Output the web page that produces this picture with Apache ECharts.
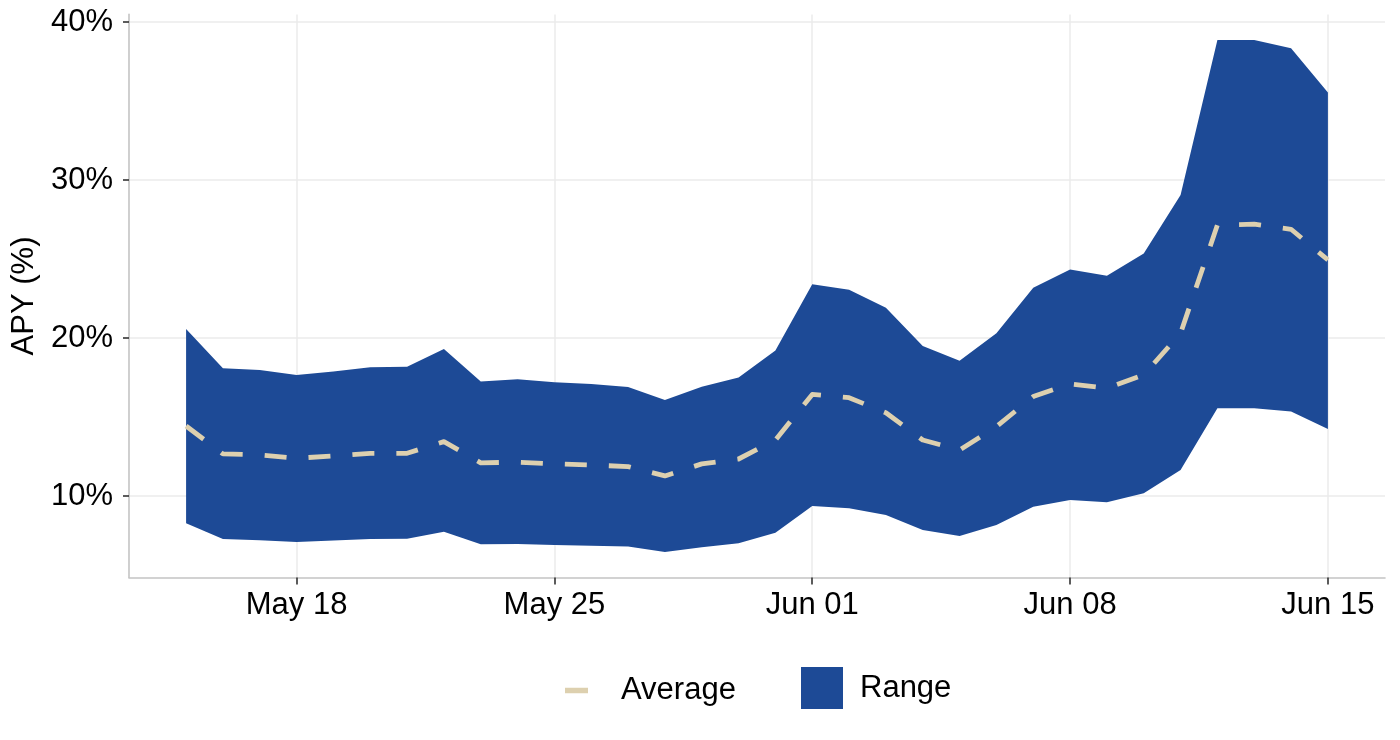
<!DOCTYPE html>
<html>
<head>
<meta charset="utf-8">
<title>APY range</title>
<script src="https://cdn.jsdelivr.net/npm/echarts@6/dist/echarts.min.js"></script>
<style>
  html, body { margin: 0; padding: 0; background: #fff; }
  #chart { width: 1400px; height: 740px; }
</style>
</head>
<body>
<div id="chart"></div>
<script>
// daily observations, May 15 - Jun 15
const dates = [
  "2024-05-15", "2024-05-16", "2024-05-17", "2024-05-18", "2024-05-19", "2024-05-20",
  "2024-05-21", "2024-05-22", "2024-05-23", "2024-05-24", "2024-05-25", "2024-05-26",
  "2024-05-27", "2024-05-28", "2024-05-29", "2024-05-30", "2024-05-31", "2024-06-01",
  "2024-06-02", "2024-06-03", "2024-06-04", "2024-06-05", "2024-06-06", "2024-06-07",
  "2024-06-08", "2024-06-09", "2024-06-10", "2024-06-11", "2024-06-12", "2024-06-13",
  "2024-06-14", "2024-06-15",
];
const upper = [
  20.57, 18.08, 17.97, 17.66, 17.88, 18.14, 18.18, 19.3, 17.25, 17.38, 17.2, 17.08,
  16.9, 16.08, 16.92, 17.5, 19.2, 23.4, 23.06, 21.92, 19.49, 18.56, 20.3, 23.18,
  24.34, 23.94, 25.35, 29.05, 38.86, 38.86, 38.33, 35.53,
];
const lower = [
  8.27, 7.28, 7.2, 7.09, 7.18, 7.28, 7.3, 7.74, 6.95, 6.96, 6.9, 6.85,
  6.8, 6.46, 6.75, 7.0, 7.68, 9.37, 9.22, 8.8, 7.85, 7.47, 8.16, 9.32,
  9.75, 9.6, 10.17, 11.65, 15.55, 15.55, 15.34, 14.24,
];
const average = [
  14.43, 12.66, 12.6, 12.39, 12.53, 12.7, 12.7, 13.44, 12.1, 12.14, 12.03, 11.96,
  11.86, 11.27, 12.03, 12.34, 13.54, 16.43, 16.22, 15.27, 13.54, 12.91, 14.39, 16.29,
  17.09, 16.82, 17.66, 20.3, 27.15, 27.2, 26.88, 24.94,
];
const xTicks = ["2024-05-18", "2024-05-25", "2024-06-01", "2024-06-08", "2024-06-15"];
const yTicks = [10, 20, 30, 40];

const DAY = 24 * 3600 * 1000;
const ts = (d) => +echarts.time.parse(d);
const xValues = dates.map(ts);
const xTickValues = xTicks.map(ts);

const chart = echarts.init(document.getElementById("chart"));

const font = '"Liberation Sans", Arial, Helvetica, sans-serif';
const FS = 31;
const BLUE = "#1d4a96";
const BEIGE = "#ddd0af";
const axisLineStyle = { color: "#c4c4c4", width: 1.6 };
const tickStyle = { color: "#333333", width: 1.6 };
const gridStyle = { color: "#ebebeb", width: 1.5 };

// ribbon between lower and upper, drawn once as a single polygon
function renderRibbon(params, api) {
  if (params.dataIndex !== 0) return null;
  const pts = [];
  for (let i = 0; i < xValues.length; i++) pts.push(api.coord([xValues[i], upper[i]]));
  for (let i = xValues.length - 1; i >= 0; i--) pts.push(api.coord([xValues[i], lower[i]]));
  return {
    type: "polygon",
    shape: { points: pts },
    style: { fill: BLUE },
  };
}

const option = {
  animation: false,
  textStyle: { fontFamily: font },
  grid: {
    left: 129,
    right: 15,
    top: 14.4,
    bottom: 162.5,
  },
  xAxis: {
    type: "value",
    min: xValues[0] - 1.55 * DAY,
    max: xValues[xValues.length - 1] + 1.55 * DAY,
    axisLine: { show: true, lineStyle: axisLineStyle },
    axisTick: { show: true, length: 7, lineStyle: tickStyle, customValues: xTickValues },
    axisLabel: {
      customValues: xTickValues,
      formatter: (v) => echarts.time.format(v, "{MMM} {dd}", false),
      fontSize: FS,
      fontFamily: font,
      color: "#000",
      margin: 12,
    },
    splitLine: { show: true, lineStyle: gridStyle },
  },
  yAxis: {
    type: "value",
    min: 4.84,
    max: 40.48,
    name: "APY (%)",
    nameLocation: "middle",
    nameGap: 80,
    nameTextStyle: { fontSize: FS, fontFamily: font, color: "#000" },
    axisLine: { show: true, lineStyle: axisLineStyle },
    axisTick: { show: true, length: 6, lineStyle: tickStyle, customValues: yTicks },
    axisLabel: {
      customValues: yTicks,
      formatter: "{value}%",
      fontSize: FS,
      fontFamily: font,
      color: "#000",
      margin: 16,
    },
    splitLine: { show: true, lineStyle: gridStyle },
  },
  legend: [
    {
      data: [{ name: "Average", icon: "rect", itemStyle: { color: BEIGE } }],
      left: 565,
      top: 675,
      padding: 0,
      itemWidth: 23,
      itemHeight: 5.5,
      selectedMode: false,
      itemStyle: { borderWidth: 0 },
      textStyle: { fontSize: FS, fontFamily: font, color: "#000", padding: [0, 0, 0, 28] },
    },
    {
      data: [{ name: "Range", icon: "rect", itemStyle: { color: BLUE } }],
      left: 801,
      top: 667,
      padding: 0,
      itemWidth: 42,
      itemHeight: 42,
      selectedMode: false,
      itemStyle: { borderWidth: 0 },
      textStyle: { fontSize: FS, fontFamily: font, color: "#000", padding: [4, 0, 0, 12] },
    },
  ],
  series: [
    {
      name: "Range",
      type: "custom",
      color: BLUE,
      itemStyle: { color: BLUE },
      data: xValues.map((x, i) => [x, lower[i], upper[i]]),
      encode: { x: 0, y: [1, 2] },
      renderItem: renderRibbon,
      silent: true,
      z: 2,
    },
    {
      name: "Average",
      type: "line",
      color: BEIGE,
      data: xValues.map((x, i) => [x, average[i]]),
      symbol: "none",
      lineStyle: { color: BEIGE, width: 4.8, type: [22, 22], cap: "butt", join: "round" },
      silent: true,
      z: 5,
    },
  ],
};

chart.setOption(option);
</script>
</body>
</html>
